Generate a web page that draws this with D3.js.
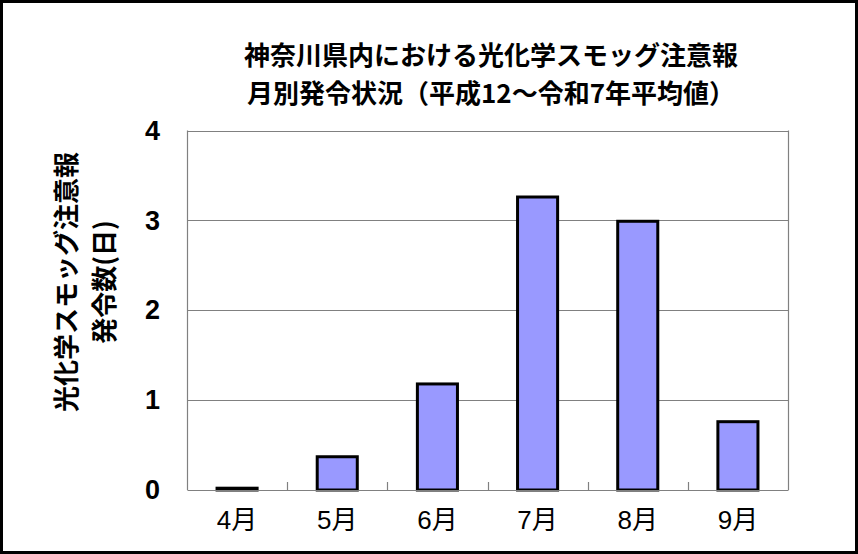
<!DOCTYPE html>
<html><head><meta charset="utf-8">
<script src="https://cdn.jsdelivr.net/npm/d3@7"></script>
<style>body{margin:0;background:#fff}svg{display:block}</style>
</head><body>
<script>
const months = ["4月","5月","6月","7月","8月","9月"];
const values = [0.02, 0.37, 1.18, 3.26, 2.99, 0.76];
const yTicks = [0,1,2,3,4];
const titleLines = ["神奈川県内における光化学スモッグ注意報","月別発令状況（平成12～令和7年平均値）"];
const yTitleLines = ["光化学スモッグ注意報","発令数(日)"];

const W = 858, H = 554;
const m = {left:187, right:70, top:130.5, bottom:64};
const svg = d3.select("body").append("svg").attr("width",W).attr("height",H);
svg.append("rect").attr("width",W).attr("height",H).attr("fill","#fff");

const x = d3.scaleBand().domain(months).range([m.left, W-m.right]).paddingInner(0).paddingOuter(0);
const y = d3.scaleLinear().domain([0,4]).range([H-m.bottom, m.top]);

// gridlines
svg.append("g").selectAll("line").data(yTicks.filter(d=>d>0)).join("line")
  .attr("x1",m.left).attr("x2",W-m.right)
  .attr("y1",d=>Math.round(y(d))+0.5).attr("y2",d=>Math.round(y(d))+0.5)
  .attr("stroke","#808080").attr("stroke-width",1.2);
// plot frame left & right
svg.append("line").attr("x1",m.left+0.5).attr("x2",m.left+0.5).attr("y1",y(4)).attr("y2",y(0)).attr("stroke","#808080").attr("stroke-width",1.2);
svg.append("line").attr("x1",W-m.right+0.5).attr("x2",W-m.right+0.5).attr("y1",y(4)).attr("y2",y(0)).attr("stroke","#808080").attr("stroke-width",1.2);

// bars
const bw = x.bandwidth()*0.40;
svg.append("g").selectAll("rect").data(months).join("rect")
  .attr("x",(d)=>x(d)+x.bandwidth()/2-bw/2)
  .attr("y",(d,i)=>y(values[i]))
  .attr("width",bw)
  .attr("height",(d,i)=>y(0)-y(values[i]))
  .attr("fill","#9999FF").attr("stroke","#000").attr("stroke-width",3);

// x axis
const xAxis = d3.axisBottom(x).tickSize(0).tickPadding(21);
const gx = svg.append("g").attr("transform",`translate(0,${y(0)})`).call(xAxis);
gx.select(".domain").attr("stroke","#808080").attr("stroke-width",1.2);
gx.selectAll("text").attr("font-family","'Liberation Sans','Noto Sans CJK JP',sans-serif").attr("font-size",26).attr("fill","#000");
// inner ticks between categories
svg.append("g").selectAll("line").data(months.slice(1)).join("line")
  .attr("x1",d=>Math.round(x(d))+0.5).attr("x2",d=>Math.round(x(d))+0.5)
  .attr("y1",y(0)).attr("y2",y(0)-8).attr("stroke","#808080").attr("stroke-width",1.2);

// y axis labels
const yAxis = d3.axisLeft(y).tickValues(yTicks).tickSize(0).tickPadding(27).tickFormat(d3.format("d"));
const gy = svg.append("g").attr("transform",`translate(${m.left},0)`).call(yAxis);
gy.select(".domain").remove();
gy.selectAll("text").attr("font-family","'Liberation Sans',Arial,sans-serif").attr("font-weight","bold").attr("font-size",27).attr("fill","#000");

// title
svg.append("g").selectAll("text").data(titleLines).join("text")
  .attr("x",491).attr("y",(d,i)=>65+i*38)
  .attr("text-anchor","middle")
  .attr("font-family","'Noto Sans CJK JP',sans-serif").attr("font-weight","bold").attr("font-size",26)
  .attr("fill","#000").text(d=>d);

// y title
svg.append("g").selectAll("text").data(yTitleLines).join("text")
  .attr("transform",(d,i)=>`translate(${76+i*38},282) rotate(-90)`)
  .attr("text-anchor","middle")
  .attr("font-family","'Noto Sans CJK JP',sans-serif").attr("font-weight","bold").attr("font-size",26)
  .attr("fill","#000").text(d=>d);

// outer frame
svg.append("rect").attr("x",1.5).attr("y",1.5).attr("width",W-3).attr("height",H-3)
  .attr("fill","none").attr("stroke","#000").attr("stroke-width",3);
</script>
</body></html>
